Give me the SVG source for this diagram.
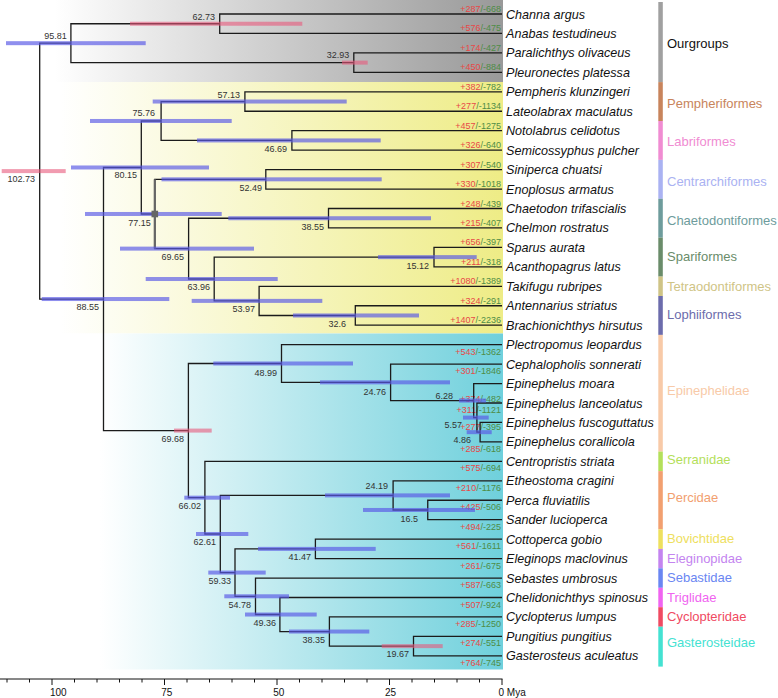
<svg xmlns="http://www.w3.org/2000/svg" width="778" height="698" viewBox="0 0 778 698">
<defs>
<linearGradient id="gGray" gradientUnits="userSpaceOnUse" x1="55" y1="0" x2="503" y2="0"><stop offset="0" stop-color="#ffffff"/><stop offset="1" stop-color="#999999"/></linearGradient>
<linearGradient id="gYel" gradientUnits="userSpaceOnUse" x1="60" y1="0" x2="503" y2="0"><stop offset="0" stop-color="#ffffff"/><stop offset="1" stop-color="#eeec86"/></linearGradient>
<linearGradient id="gCyan" gradientUnits="userSpaceOnUse" x1="100" y1="0" x2="503" y2="0"><stop offset="0" stop-color="#ffffff"/><stop offset="1" stop-color="#6fd0dc"/></linearGradient>
<style>
text{font-family:"Liberation Sans",Arial,Helvetica,sans-serif}
.ln{fill:none;stroke:#1b1b1b;stroke-width:1.3}
.hb{fill:#5a5ae6;opacity:.68}
.hp{fill:#e8587c;opacity:.6}
.nl{font-size:9px;fill:#333;text-anchor:end}
.sp{font-size:12.6px;font-style:italic;fill:#111}
.gl{font-size:9px;text-anchor:end}
.r{fill:#e84848}
.g{fill:#4e8c46}
.cl{font-size:13px}
.ax{stroke:#111;stroke-width:1;fill:none}
.at{font-size:10px;fill:#111}
</style>
</defs>
<rect width="778" height="698" fill="#fff"/>
<g id="backgrounds">
<rect x="0" y="0" width="503" height="82" fill="url(#gGray)"/>
<rect x="0" y="82" width="503" height="251.5" fill="url(#gYel)"/>
<rect x="0" y="333.5" width="503" height="336" fill="url(#gCyan)"/>
</g>
<g id="gainloss">
<text class="gl" x="501" y="12"><tspan class="r">+287</tspan><tspan class="g">/-668</tspan></text>
<text class="gl" x="501" y="31.45"><tspan class="r">+576</tspan><tspan class="g">/-475</tspan></text>
<text class="gl" x="501" y="50.9"><tspan class="r">+174</tspan><tspan class="g">/-427</tspan></text>
<text class="gl" x="501" y="70.35"><tspan class="r">+450</tspan><tspan class="g">/-884</tspan></text>
<text class="gl" x="501" y="89.8"><tspan class="r">+382</tspan><tspan class="g">/-782</tspan></text>
<text class="gl" x="501" y="109.25"><tspan class="r">+277</tspan><tspan class="g">/-1134</tspan></text>
<text class="gl" x="501" y="128.7"><tspan class="r">+457</tspan><tspan class="g">/-1275</tspan></text>
<text class="gl" x="501" y="148.15"><tspan class="r">+326</tspan><tspan class="g">/-640</tspan></text>
<text class="gl" x="501" y="167.6"><tspan class="r">+307</tspan><tspan class="g">/-540</tspan></text>
<text class="gl" x="501" y="187.05"><tspan class="r">+330</tspan><tspan class="g">/-1018</tspan></text>
<text class="gl" x="501" y="206.5"><tspan class="r">+248</tspan><tspan class="g">/-439</tspan></text>
<text class="gl" x="501" y="225.95"><tspan class="r">+215</tspan><tspan class="g">/-407</tspan></text>
<text class="gl" x="501" y="245.4"><tspan class="r">+656</tspan><tspan class="g">/-397</tspan></text>
<text class="gl" x="501" y="264.85"><tspan class="r">+211</tspan><tspan class="g">/-318</tspan></text>
<text class="gl" x="501" y="284.3"><tspan class="r">+1080</tspan><tspan class="g">/-1389</tspan></text>
<text class="gl" x="501" y="303.75"><tspan class="r">+324</tspan><tspan class="g">/-291</tspan></text>
<text class="gl" x="501" y="323.2"><tspan class="r">+1407</tspan><tspan class="g">/-2236</tspan></text>
<text class="gl" x="501" y="354.65"><tspan class="r">+543</tspan><tspan class="g">/-1362</tspan></text>
<text class="gl" x="501" y="374.1"><tspan class="r">+301</tspan><tspan class="g">/-1846</tspan></text>
<text class="gl" x="501" y="402.3"><tspan class="r">+374</tspan><tspan class="g">/-482</tspan></text>
<text class="gl" x="501" y="413"><tspan class="r">+311</tspan><tspan class="g">/-1121</tspan></text>
<text class="gl" x="501" y="430.3"><tspan class="r">+277</tspan><tspan class="g">/-395</tspan></text>
<text class="gl" x="501" y="452"><tspan class="r">+285</tspan><tspan class="g">/-618</tspan></text>
<text class="gl" x="501" y="471.35"><tspan class="r">+575</tspan><tspan class="g">/-694</tspan></text>
<text class="gl" x="501" y="490.8"><tspan class="r">+210</tspan><tspan class="g">/-1176</tspan></text>
<text class="gl" x="501" y="510.25"><tspan class="r">+425</tspan><tspan class="g">/-506</tspan></text>
<text class="gl" x="501" y="529.7"><tspan class="r">+494</tspan><tspan class="g">/-225</tspan></text>
<text class="gl" x="501" y="549.15"><tspan class="r">+561</tspan><tspan class="g">/-1611</tspan></text>
<text class="gl" x="501" y="568.6"><tspan class="r">+261</tspan><tspan class="g">/-675</tspan></text>
<text class="gl" x="501" y="588.05"><tspan class="r">+587</tspan><tspan class="g">/-663</tspan></text>
<text class="gl" x="501" y="607.5"><tspan class="r">+507</tspan><tspan class="g">/-924</tspan></text>
<text class="gl" x="501" y="626.95"><tspan class="r">+285</tspan><tspan class="g">/-1250</tspan></text>
<text class="gl" x="501" y="646.4"><tspan class="r">+274</tspan><tspan class="g">/-551</tspan></text>
<text class="gl" x="501" y="666"><tspan class="r">+764</tspan><tspan class="g">/-745</tspan></text>
</g>
<g id="connectors">
<path class="ln" d="M70.9,43.18H39.7V299.03H103.5"/>
<path class="ln" d="M219.7,23.73H70.9V62.63H353.8"/>
<path class="ln" d="M502,14H219.7V33.45H502"/>
<path class="ln" d="M502,52.9H353.8V72.35H502"/>
<path class="ln" d="M141.3,167.48H103.5V430.58H188.4"/>
<path class="ln" d="M161.1,120.98H141.3V213.98H154.8"/>
<path class="ln" d="M244.9,101.53H161.1V140.43H291.9"/>
<path class="ln" d="M502,91.8H244.9V111.25H502"/>
<path class="ln" d="M502,130.7H291.9V150.15H502"/>
<path class="ln" d="M265.8,179.33H154.8V248.62H188.6"/>
<path d="M154.8,179.33V248.62" fill="none" stroke="#666" stroke-width="2.2"/>
<path class="ln" d="M502,169.6H265.8V189.05H502"/>
<path class="ln" d="M328.5,218.23H188.6V279.01H214.2"/>
<path class="ln" d="M502,208.5H328.5V227.95H502"/>
<path class="ln" d="M434,257.13H214.2V300.89H259.1"/>
<path class="ln" d="M502,247.4H434V266.85H502"/>
<path class="ln" d="M502,286.3H259.1V315.48H355.3"/>
<path class="ln" d="M502,305.75H355.3V325.2H502"/>
<path class="ln" d="M281.5,363.49H188.4V497.67H204.9"/>
<path class="ln" d="M502,344.65H281.5V382.34H390.6"/>
<path class="ln" d="M502,364.1H390.6V400.57H473.7"/>
<path class="ln" d="M502,383.55H473.7V417.59H476.9"/>
<path class="ln" d="M502,403H476.9V432.18H480.1"/>
<path class="ln" d="M502,422.45H480.1V441.9H502"/>
<path class="ln" d="M502,461.35H204.9V533.99H220.3"/>
<path class="ln" d="M393.1,495.39H220.3V572.58H235"/>
<path class="ln" d="M502,480.8H393.1V509.98H427.75"/>
<path class="ln" d="M502,500.25H427.75V519.7H502"/>
<path class="ln" d="M315.4,548.88H235V596.29H255.5"/>
<path class="ln" d="M502,539.15H315.4V558.6H502"/>
<path class="ln" d="M502,578.05H255.5V614.52H279.9"/>
<path class="ln" d="M502,597.5H279.9V631.54H329.4"/>
<path class="ln" d="M502,616.95H329.4V646.13H413.5"/>
<path class="ln" d="M502,636.4H413.5V655.85H502"/>
</g>
<g id="n102_73"><rect class="hp" x="1.7" y="169.1" width="64" height="4"/><text class="nl" x="35" y="181.5">102.73</text></g>
<g id="n95_81"><rect class="hb" x="6" y="41.18" width="139.7" height="4"/><text class="nl" x="66.7" y="38.5">95.81</text></g>
<g id="n62_73"><rect class="hp" x="130" y="21.73" width="172.3" height="4"/><text class="nl" x="215" y="19.5">62.73</text></g>
<g id="n32_93"><rect class="hp" x="342" y="60.63" width="25.7" height="4"/><text class="nl" x="349.3" y="58.3">32.93</text></g>
<g id="n57_13"><rect class="hb" x="152.7" y="99.53" width="194" height="4"/><text class="nl" x="240" y="97.5">57.13</text></g>
<g id="n75_76"><rect class="hb" x="90" y="118.98" width="141.7" height="4"/><text class="nl" x="155" y="116">75.76</text></g>
<g id="n46_69"><rect class="hb" x="197" y="138.43" width="183.7" height="4"/><text class="nl" x="287" y="151.6">46.69</text></g>
<g id="n80_15"><rect class="hb" x="71" y="165.48" width="138" height="4"/><text class="nl" x="137" y="178.3">80.15</text></g>
<g id="n52_49"><rect class="hb" x="161.5" y="177.33" width="220.2" height="4"/><text class="nl" x="262" y="190.5">52.49</text></g>
<g id="n77_15"><rect class="hb" x="85" y="211.98" width="136.7" height="4"/><rect x="151.5" y="210.7" width="6.6" height="6.6" fill="#666"/><text class="nl" x="150.7" y="225.5">77.15</text></g>
<g id="n69_65"><rect class="hb" x="120" y="246.62" width="134" height="4"/><text class="nl" x="184" y="260.3">69.65</text></g>
<g id="n38_55"><rect class="hb" x="228.3" y="216.23" width="202.7" height="4"/><text class="nl" x="324" y="230">38.55</text></g>
<g id="n63_96"><rect class="hb" x="145.7" y="277.01" width="132" height="4"/><text class="nl" x="210" y="290">63.96</text></g>
<g id="n15_12"><rect class="hb" x="378" y="255.13" width="98.7" height="4"/><text class="nl" x="429" y="269">15.12</text></g>
<g id="n53_97"><rect class="hb" x="191.7" y="298.89" width="130.6" height="4"/><text class="nl" x="255" y="312.3">53.97</text></g>
<g id="n32_6"><rect class="hb" x="293" y="313.48" width="126" height="4"/><text class="nl" x="346" y="327.3">32.6</text></g>
<g id="n88_55"><rect class="hb" x="41.7" y="297.03" width="127.6" height="4"/><text class="nl" x="99" y="310">88.55</text></g>
<g id="n69_68"><rect class="hp" x="174" y="428.58" width="37.7" height="4"/><text class="nl" x="184" y="442">69.68</text></g>
<g id="n48_99"><rect class="hb" x="213.3" y="361.49" width="139.7" height="4"/><text class="nl" x="277" y="375.6">48.99</text></g>
<g id="n24_76"><rect class="hb" x="320" y="380.34" width="130" height="4"/><text class="nl" x="386" y="395">24.76</text></g>
<g id="n6_28"><rect class="hb" x="459" y="398.57" width="27" height="4"/><text class="nl" x="453" y="399">6.28</text></g>
<g id="n5_57"><rect class="hb" x="463" y="415.59" width="25.7" height="4"/><text class="nl" x="462" y="428.3">5.57</text></g>
<g id="n4_86"><rect class="hb" x="466.7" y="430.18" width="25" height="4"/><text class="nl" x="471" y="443.3">4.86</text></g>
<g id="n66_02"><rect class="hb" x="184.3" y="495.67" width="45.7" height="4"/><text class="nl" x="201" y="509">66.02</text></g>
<g id="n24_19"><rect class="hb" x="325" y="493.39" width="125" height="4"/><text class="nl" x="388" y="489.3">24.19</text></g>
<g id="n16_5"><rect class="hb" x="363" y="507.98" width="112" height="4"/><text class="nl" x="418" y="521.6">16.5</text></g>
<g id="n62_61"><rect class="hb" x="196" y="531.99" width="52.3" height="4"/><text class="nl" x="216" y="545.3">62.61</text></g>
<g id="n41_47"><rect class="hb" x="258" y="546.88" width="117.7" height="4"/><text class="nl" x="311" y="560">41.47</text></g>
<g id="n59_33"><rect class="hb" x="208.3" y="570.58" width="57.4" height="4"/><text class="nl" x="231" y="584">59.33</text></g>
<g id="n54_78"><rect class="hb" x="224.3" y="594.29" width="64.7" height="4"/><text class="nl" x="251" y="607.6">54.78</text></g>
<g id="n49_36"><rect class="hb" x="245" y="612.52" width="71.7" height="4"/><text class="nl" x="276" y="625.6">49.36</text></g>
<g id="n38_35"><rect class="hb" x="289" y="629.54" width="80.3" height="4"/><text class="nl" x="325" y="642.6">38.35</text></g>
<g id="n19_67"><rect class="hp" x="381.7" y="644.13" width="61" height="4"/><text class="nl" x="409" y="657.3">19.67</text></g>
<g id="tips">
<text class="sp" x="506" y="18.5">Channa argus</text>
<text class="sp" x="506" y="37.95">Anabas testudineus</text>
<text class="sp" x="506" y="57.4">Paralichthys olivaceus</text>
<text class="sp" x="506" y="76.85">Pleuronectes platessa</text>
<text class="sp" x="506" y="96.3">Pempheris klunzingeri</text>
<text class="sp" x="506" y="115.75">Lateolabrax maculatus</text>
<text class="sp" x="506" y="135.2">Notolabrus celidotus</text>
<text class="sp" x="506" y="154.65">Semicossyphus pulcher</text>
<text class="sp" x="506" y="174.1">Siniperca chuatsi</text>
<text class="sp" x="506" y="193.55">Enoplosus armatus</text>
<text class="sp" x="506" y="213">Chaetodon trifascialis</text>
<text class="sp" x="506" y="232.45">Chelmon rostratus</text>
<text class="sp" x="506" y="251.9">Sparus aurata</text>
<text class="sp" x="506" y="271.35">Acanthopagrus latus</text>
<text class="sp" x="506" y="290.8">Takifugu rubripes</text>
<text class="sp" x="506" y="310.25">Antennarius striatus</text>
<text class="sp" x="506" y="329.7">Brachionichthys hirsutus</text>
<text class="sp" x="506" y="349.15">Plectropomus leopardus</text>
<text class="sp" x="506" y="368.6">Cephalopholis sonnerati</text>
<text class="sp" x="506" y="388.05">Epinephelus moara</text>
<text class="sp" x="506" y="407.5">Epinephelus lanceolatus</text>
<text class="sp" x="506" y="426.95">Epinephelus fuscoguttatus</text>
<text class="sp" x="506" y="446.4">Epinephelus corallicola</text>
<text class="sp" x="506" y="465.85">Centropristis striata</text>
<text class="sp" x="506" y="485.3">Etheostoma cragini</text>
<text class="sp" x="506" y="504.75">Perca fluviatilis</text>
<text class="sp" x="506" y="524.2">Sander lucioperca</text>
<text class="sp" x="506" y="543.65">Cottoperca gobio</text>
<text class="sp" x="506" y="563.1">Eleginops maclovinus</text>
<text class="sp" x="506" y="582.55">Sebastes umbrosus</text>
<text class="sp" x="506" y="602">Chelidonichthys spinosus</text>
<text class="sp" x="506" y="621.45">Cyclopterus lumpus</text>
<text class="sp" x="506" y="640.9">Pungitius pungitius</text>
<text class="sp" x="506" y="660.35">Gasterosteus aculeatus</text>
</g>
<g id="clades">
<g id="c_ourgroups"><rect x="658.3" y="2" width="4.5" height="80.1" fill="#a0a0a0"/><text class="cl" x="667" y="48" fill="#111">Ourgroups</text></g>
<g id="c_pempheriformes"><rect x="658.3" y="82.1" width="4.5" height="38.9" fill="#c8845c"/><text class="cl" x="667" y="108" fill="#c8845c">Pempheriformes</text></g>
<g id="c_labriformes"><rect x="658.3" y="121" width="4.5" height="38.9" fill="#f08cd2"/><text class="cl" x="667" y="146" fill="#f08cd2">Labriformes</text></g>
<g id="c_centrarchiformes"><rect x="658.3" y="159.9" width="4.5" height="38.9" fill="#aab2f2"/><text class="cl" x="667" y="185.7" fill="#aab2f2">Centrarchiformes</text></g>
<g id="c_chaetodontiformes"><rect x="658.3" y="198.8" width="4.5" height="38.9" fill="#6e9c9c"/><text class="cl" x="667" y="224.7" fill="#6e9c9c">Chaetodontiformes</text></g>
<g id="c_spariformes"><rect x="658.3" y="237.7" width="4.5" height="38.9" fill="#6a8c6a"/><text class="cl" x="667" y="261.4" fill="#6a8c6a">Spariformes</text></g>
<g id="c_tetraodontiformes"><rect x="658.3" y="276.6" width="4.5" height="19.4" fill="#cfc486"/><text class="cl" x="667" y="290.7" fill="#cfc486">Tetraodontiformes</text></g>
<g id="c_lophiiformes"><rect x="658.3" y="296" width="4.5" height="38.9" fill="#6c6cac"/><text class="cl" x="667" y="319.4" fill="#6c6cac">Lophiiformes</text></g>
<g id="c_epinephelidae"><rect x="658.3" y="334.9" width="4.5" height="116.7" fill="#f8caa8"/><text class="cl" x="667" y="394.7" fill="#f8caa8">Epinephelidae</text></g>
<g id="c_serranidae"><rect x="658.3" y="451.6" width="4.5" height="19.5" fill="#b4e05a"/><text class="cl" x="667" y="463.7" fill="#b4e05a">Serranidae</text></g>
<g id="c_percidae"><rect x="658.3" y="471.1" width="4.5" height="58.3" fill="#f2a070"/><text class="cl" x="667" y="502.4" fill="#f2a070">Percidae</text></g>
<g id="c_bovichtidae"><rect x="658.3" y="529.4" width="4.5" height="19.5" fill="#eee05e"/><text class="cl" x="667" y="543" fill="#eee05e">Bovichtidae</text></g>
<g id="c_eleginopidae"><rect x="658.3" y="548.9" width="4.5" height="19.4" fill="#c484f0"/><text class="cl" x="667" y="563" fill="#c484f0">Eleginopidae</text></g>
<g id="c_sebastidae"><rect x="658.3" y="568.3" width="4.5" height="19.5" fill="#6a86f2"/><text class="cl" x="667" y="582.4" fill="#6a86f2">Sebastidae</text></g>
<g id="c_triglidae"><rect x="658.3" y="587.8" width="4.5" height="19.4" fill="#f064f0"/><text class="cl" x="667" y="602" fill="#f064f0">Triglidae</text></g>
<g id="c_cyclopteridae"><rect x="658.3" y="607.2" width="4.5" height="19.5" fill="#f04a62"/><text class="cl" x="667" y="621.4" fill="#f04a62">Cyclopteridae</text></g>
<g id="c_gasterosteidae"><rect x="658.3" y="626.7" width="4.5" height="39.9" fill="#44e2d2"/><text class="cl" x="667" y="647.4" fill="#44e2d2">Gasterosteidae</text></g>
</g>
<g id="axis">
<path class="ax" d="M0,679H502.5"/>
<path class="ax" d="M502,679v6M479.5,679v3.5M457,679v3.5M434.5,679v3.5M412,679v3.5M389.5,679v6M367,679v3.5M344.5,679v3.5M322,679v3.5M299.5,679v3.5M277,679v6M254.5,679v3.5M232,679v3.5M209.5,679v3.5M187,679v3.5M164.5,679v6M142,679v3.5M119.5,679v3.5M97,679v3.5M74.5,679v3.5M52,679v6M29.5,679v3.5M7,679v3.5"/>
<text class="at" x="58.3" y="695.5" text-anchor="middle">100</text>
<text class="at" x="166.7" y="695.5" text-anchor="middle">75</text>
<text class="at" x="278.7" y="695.5" text-anchor="middle">50</text>
<text class="at" x="390.5" y="695.5" text-anchor="middle">25</text>
<text class="at" x="498.5" y="695.5">0 Mya</text>
</g>
</svg>
